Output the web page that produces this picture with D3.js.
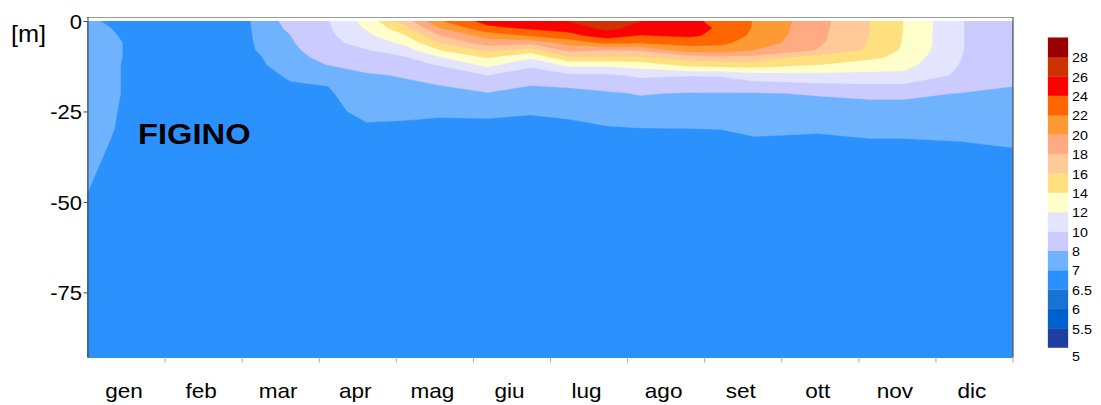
<!DOCTYPE html>
<html>
<head>
<meta charset="utf-8">
<script src="https://cdn.jsdelivr.net/npm/d3@7"></script>
<style>
  body { margin: 0; background: #fff; }
  svg { display: block; }
  text { font-family: "Liberation Sans", Arial, sans-serif; fill: #000; }
</style>
</head>
<body>
<svg id="chart" width="1101" height="405"></svg>
<script>
// Lake temperature section, one year at the FIGINO station.
const station = "FIGINO";
const monthLabels = ["gen", "feb", "mar", "apr", "mag", "giu", "lug", "ago", "set", "ott", "nov", "dic"];
const depthLabel = "[m]";
const depthTicks = [0, -25, -50, -75];
const maxDepth = 93;

// Sampling dates as fractional months from 1 January.
const sampleMonths = [0, 0.86, 2.04, 2.27, 2.63, 3.12, 3.62, 4.11, 4.57, 5.19, 5.75, 6.25,
                      6.74, 7.17, 7.82, 8.22, 8.65, 9.47, 10.16, 10.59, 11.34, 12];
// Measurement depths (m) of every profile.
const depths = [0, 2, 4, 6, 8, 10, 12, 15, 20, 25, 30, 35, 50, 93];
// Temperature profiles (°C), one per sampling date, top to bottom.
const profiles = [
  [7.05, 7.10, 7.15, 7.20, 7.20, 7.20, 7.20, 7.20, 7.20, 7.18, 7.15, 7.10, 6.98, 6.70],
  [6.80, 6.82, 6.82, 6.82, 6.82, 6.82, 6.80, 6.80, 6.80, 6.78, 6.78, 6.76, 6.74, 6.70],
  [6.85, 6.85, 6.85, 6.85, 6.85, 6.85, 6.85, 6.84, 6.83, 6.82, 6.80, 6.80, 6.78, 6.72],
  [7.30, 7.25, 7.20, 7.15, 7.10, 7.00, 6.95, 6.90, 6.88, 6.85, 6.85, 6.82, 6.80, 6.72],
  [8.50, 8.25, 7.98, 7.80, 7.60, 7.45, 7.30, 7.05, 6.90, 6.85, 6.85, 6.82, 6.80, 6.72],
  [9.85, 9.75, 9.60, 9.40, 9.00, 8.50, 8.05, 7.15, 6.90, 6.85, 6.85, 6.82, 6.80, 6.72],
  [12.7, 12.2, 11.5, 10.8, 9.90, 9.30, 8.50, 7.85, 7.50, 7.15, 6.90, 6.85, 6.80, 6.72],
  [16.8, 15.3, 13.8, 12.4, 11.2, 9.80, 9.20, 8.10, 7.50, 7.10, 6.90, 6.85, 6.80, 6.72],
  [21.8, 19.9, 17.9, 16.1, 14.0, 11.9, 10.2, 8.50, 7.60, 7.05, 6.90, 6.85, 6.80, 6.72],
  [24.8, 23.4, 20.8, 19.0, 16.5, 14.2, 12.6, 10.0, 7.90, 7.05, 6.92, 6.85, 6.80, 6.72],
  [25.0, 24.3, 22.2, 18.6, 15.2, 12.3, 10.5, 8.80, 7.40, 7.02, 6.92, 6.85, 6.80, 6.72],
  [26.1, 24.8, 23.4, 20.8, 18.6, 15.8, 12.6, 9.60, 7.30, 7.06, 6.92, 6.85, 6.80, 6.72],
  [27.0, 26.5, 25.0, 22.5, 18.0, 15.8, 12.6, 9.60, 7.80, 7.20, 6.95, 6.88, 6.80, 6.72],
  [26.05, 25.3, 23.9, 22.1, 18.3, 15.8, 13.0, 10.3, 8.10, 7.20, 6.98, 6.90, 6.80, 6.72],
  [24.5, 24.7, 24.4, 22.6, 21.2, 17.0, 14.8, 10.1, 7.90, 7.30, 6.98, 6.90, 6.80, 6.72],
  [23.3, 23.7, 23.3, 22.4, 21.2, 17.5, 15.0, 10.2, 7.90, 7.30, 7.00, 6.90, 6.80, 6.72],
  [21.9, 21.8, 21.6, 21.2, 20.0, 17.4, 15.2, 11.0, 7.90, 7.35, 7.05, 6.92, 6.82, 6.72],
  [18.7, 18.6, 18.5, 18.35, 17.9, 15.0, 14.1, 11.4, 8.10, 7.40, 7.02, 6.93, 6.82, 6.72],
  [15.95, 15.95, 15.9, 15.8, 15.6, 14.6, 12.8, 11.6, 8.30, 7.40, 7.05, 6.95, 6.83, 6.72],
  [13.95, 13.95, 13.9, 13.85, 13.7, 13.2, 12.7, 11.5, 8.30, 7.40, 7.05, 6.95, 6.83, 6.72],
  [10.05, 10.05, 10.05, 10.05, 10.05, 10.0, 9.85, 9.60, 7.95, 7.40, 7.10, 6.95, 6.83, 6.72],
  [9.00, 9.00, 9.00, 9.00, 9.00, 8.95, 8.90, 8.40, 7.75, 7.50, 7.25, 7.00, 6.85, 6.72]
];

// Isotherm levels and the colour of each band [level i, level i+1).
const levels = [5, 5.5, 6, 6.5, 7, 8, 10, 12, 14, 16, 18, 20, 22, 24, 26, 28];
const levelLabels = ["5", "5.5", "6", "6.5", "7", "8", "10", "12", "14", "16", "18", "20", "22", "24", "26", "28"];
const bandColors = ["#1d3f9f", "#0061cd", "#1a73d3", "#2b91fd", "#6fb3ff", "#cbcbff", "#e4e4fe",
                    "#ffffcc", "#ffe07f", "#ffc999", "#ffaa80", "#ff9933", "#ff6600", "#ff0000",
                    "#cc3300", "#990000"];

const svg = d3.select("#chart");
const plot = { left: 87.5, right: 1012.5, top: 21, bottom: 357.5 };

const x = d3.scaleLinear().domain([0, 12]).range([plot.left, plot.right]);
const y = d3.scaleLinear().domain([0, -maxDepth]).range([plot.top, plot.bottom]);

// Grid for the contour generator: columns = sampling dates, rows = depths.
const nx = sampleMonths.length, ny = depths.length;
const grid = new Array(nx * ny);
for (let j = 0; j < ny; j++)
  for (let i = 0; i < nx; i++)
    grid[j * nx + i] = profiles[i][j];

// Grid units -> real time / depth (piecewise linear through sample positions).
const gridX = d3.scaleLinear()
  .domain([0, ...sampleMonths.map((_, i) => i + 0.5), nx])
  .range([sampleMonths[0], ...sampleMonths, sampleMonths[nx - 1]]);
const gridY = d3.scaleLinear()
  .domain([0, ...depths.map((_, j) => j + 0.5), ny])
  .range([depths[0], ...depths, depths[ny - 1]]);

const project = d3.geoTransform({
  point(gx, gy) { this.stream.point(x(gridX(gx)), y(-gridY(gy))); }
});
const path = d3.geoPath(project);

const contours = d3.contours().size([nx, ny]).thresholds(levels)(grid);

svg.append("clipPath").attr("id", "plot-clip")
  .append("rect")
  .attr("x", plot.left).attr("y", plot.top)
  .attr("width", plot.right - plot.left).attr("height", plot.bottom - plot.top);

svg.append("g").attr("clip-path", "url(#plot-clip)")
  .selectAll("path")
  .data(contours)
  .join("path")
  .attr("d", path)
  .attr("fill", (d, i) => bandColors[i])
  .attr("stroke", (d, i) => bandColors[i])
  .attr("stroke-width", 0.4);

// Frame lines
svg.append("line").attr("x1", plot.left - 1).attr("x2", plot.right + 0.5)
  .attr("y1", 17.5).attr("y2", 17.5).attr("stroke", "#9a9a9a").attr("stroke-width", 1.2);
svg.append("line").attr("x1", plot.right + 0.5).attr("x2", plot.right + 0.5)
  .attr("y1", 17).attr("y2", plot.bottom).attr("stroke", "#555").attr("stroke-width", 1.2);

// Depth axis (plain hyphen for negative values)
const yAxis = svg.append("g")
  .attr("transform", `translate(${plot.left},0)`)
  .call(d3.axisLeft(y).tickValues(depthTicks).tickSize(4).tickSizeOuter(0)
    .tickPadding(5).tickFormat(d => String(d)));
yAxis.select(".domain").attr("stroke", "#444").attr("d", `M0.5,17V${plot.bottom}`);
yAxis.selectAll(".tick line").attr("stroke", "#444");
yAxis.selectAll(".tick text")
  .attr("font-size", 20).attr("fill", "#000")
  .attr("x", -5.5 / 1.1).attr("dy", "0.36em")
  .attr("transform", "scale(1.1,1)");

// Month axis: ticks on month boundaries, names centred in each month
const xAxis = svg.append("g")
  .attr("transform", `translate(0,${plot.bottom})`)
  .call(d3.axisBottom(x).tickValues(d3.range(1, 13)).tickSize(5).tickFormat(""));
xAxis.select(".domain").remove();
xAxis.selectAll(".tick line").attr("stroke", "#aaa");

svg.append("g").selectAll("text")
  .data(monthLabels)
  .join("text")
  .attr("transform", (d, i) => `translate(${x(i + 0.5) - 2},397.5) scale(1.1,1)`)
  .attr("text-anchor", "middle")
  .attr("font-size", 20.5)
  .text(d => d);

// Unit and station labels
svg.append("text").attr("transform", "translate(11,42) scale(1.1,1)")
  .attr("font-size", 23).text(depthLabel);
svg.append("text").attr("transform", "translate(138,143.5) scale(1.09,1)")
  .attr("font-size", 30).attr("font-weight", "bold").text(station);

// Colour bar
const bar = { x: 1048, width: 20, top: 37.7, bottom: 347.7 };
const barY = d3.scaleLinear().domain([0, levels.length]).range([bar.bottom, bar.top]);
svg.append("g").selectAll("rect")
  .data(bandColors)
  .join("rect")
  .attr("x", bar.x).attr("width", bar.width)
  .attr("y", (d, i) => barY(i + 1))
  .attr("height", (d, i) => barY(i) - barY(i + 1))
  .attr("fill", d => d)
  .attr("stroke", d => d).attr("stroke-width", 0.3);

svg.append("g").selectAll("text")
  .data(levelLabels)
  .join("text")
  .attr("transform", (d, i) => `translate(${bar.x + 24},${(i === 0 ? barY(i) + 9 : barY(i) + 0.6)}) scale(1.1,1)`)
  .attr("dy", "0.36em")
  .attr("font-size", 13)
  .text(d => d);
</script>
</body>
</html>
